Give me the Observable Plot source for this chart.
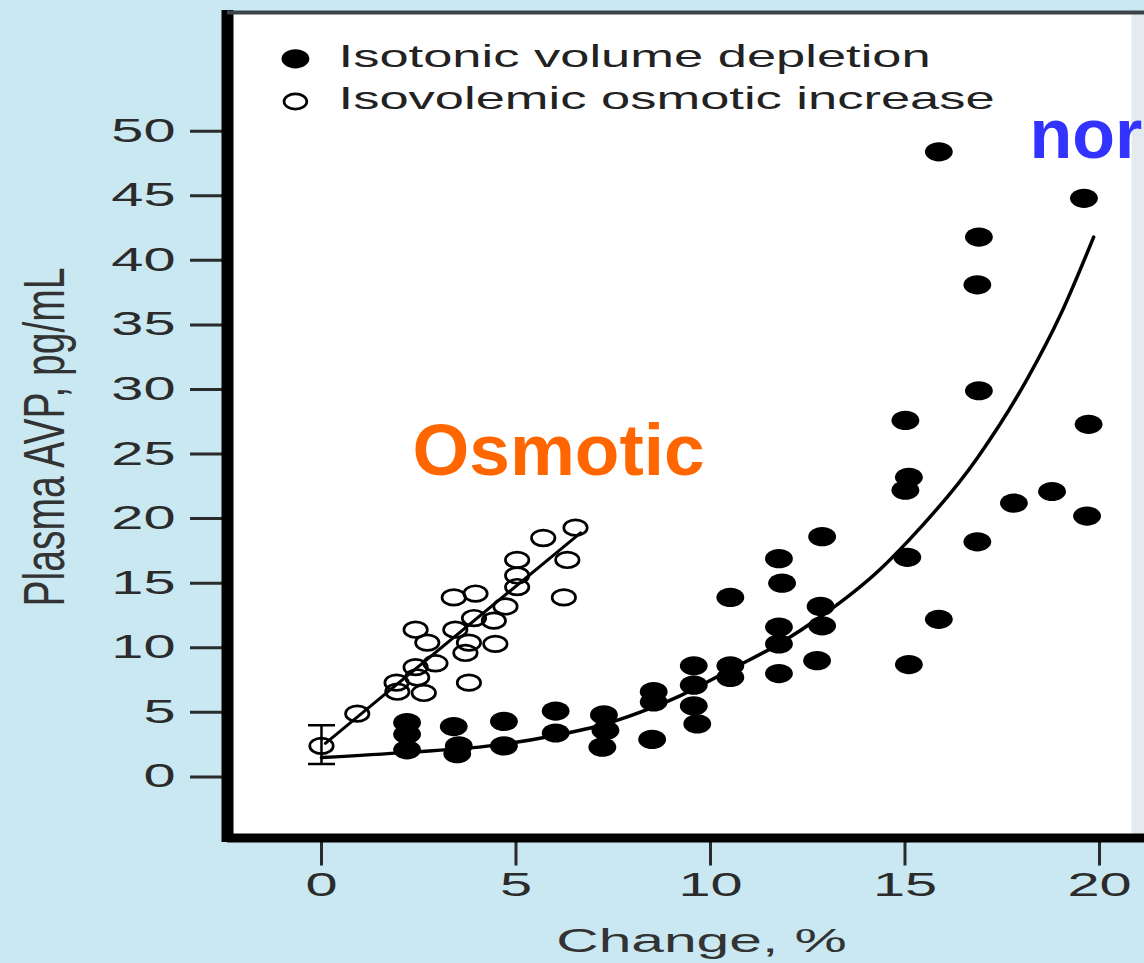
<!DOCTYPE html>
<html><head><meta charset="utf-8">
<script src="https://cdn.jsdelivr.net/npm/d3@7"></script>
<script src="https://cdn.jsdelivr.net/npm/@observablehq/plot@0.6"></script>
<style>
html,body{margin:0;padding:0;background:#c9e8f2;}
#chart{width:1144px;height:963px;overflow:hidden;}
</style></head><body><div id="chart"></div>
<script>
// ---- data ----
const xTicks = [0, 5, 10, 15, 20];
const yTicks = [0, 5, 10, 15, 20, 25, 30, 35, 40, 45, 50];
const xDomain = [-2.416, 21.157];
const yDomain = [-4.73, 59.19];

// Isovolemic osmotic increase (open circles)
const osmoticX = [0, 0.92, 1.93, 1.95, 2.42, 2.72, 2.42, 2.46, 2.63, 2.93, 3.40, 3.96, 3.44, 3.92, 3.79, 3.70, 3.79, 4.43, 4.47, 4.73, 5.03, 5.03, 5.03, 5.70, 6.53, 6.32, 6.23];
const osmoticY = [2.4, 4.9, 7.3, 6.6, 11.4, 10.4, 8.5, 7.7, 6.5, 8.8, 13.9, 14.2, 11.4, 12.3, 10.4, 9.6, 7.3, 12.1, 10.3, 13.2, 16.8, 15.6, 14.7, 18.5, 19.3, 16.8, 13.9];

// Isotonic volume depletion (filled dots)
const volumeX = [2.20, 2.20, 2.20, 3.40, 3.53, 3.49, 4.69, 4.69, 6.02, 6.02, 7.26, 7.30, 7.22, 8.54, 8.54, 8.50, 9.57, 9.57, 9.57, 9.66, 10.51, 10.51, 10.51, 11.76, 11.84, 11.76, 11.76, 11.76, 12.87, 12.83, 12.87, 12.74, 15.87, 19.60, 16.90, 16.86, 16.90, 15.01, 19.72, 15.10, 15.01, 17.80, 18.78, 19.68, 16.86, 15.06, 15.87, 15.10];
const volumeY = [4.2, 3.3, 2.1, 3.9, 2.4, 1.8, 4.3, 2.4, 5.1, 3.4, 4.8, 3.6, 2.3, 6.6, 5.8, 2.9, 8.6, 7.1, 5.5, 4.1, 13.9, 8.6, 7.7, 16.9, 15.0, 11.6, 10.3, 8.0, 18.6, 13.2, 11.7, 9.0, 48.4, 44.8, 41.8, 38.1, 29.9, 27.6, 27.3, 23.2, 22.2, 21.2, 22.1, 20.2, 18.2, 17.0, 12.2, 8.7];

// fitted curves
const fitVolumeX = [0, 2.2, 4.6, 6.0, 7.3, 8.53, 9.23, 10.51, 11.76, 12.83, 14.37, 15.06, 16.86, 18.14, 19.0, 19.85];
const fitVolumeY = [1.5, 1.9, 2.5, 3.2, 4.1, 5.4, 6.3, 8.3, 10.3, 12.4, 16.1, 18.2, 24.7, 30.8, 35.8, 41.8];
const fitOsmoticX = [0.1, 6.66];
const fitOsmoticY = [2.6, 18.9];

// baseline error bar (x = 0)
const errorBarX = [0];
const errorBarLow = [1.0];
const errorBarHigh = [4.0];

// legend and annotations
const legendLabels = ["Isotonic volume depletion", "Isovolemic osmotic increase"];
const legendX = [-0.67, -0.67];
const legendY = [55.6, 52.3];
const legendTextX = [0.44, 0.44];
const legendTextY = [55.8, 52.5];
const annotationLabels = ["Osmotic", "nor"];
const annotationX = [2.34, 18.2];
const annotationY = [25.16, 49.66];
const annotationColors = ["#ff6600", "#3333ff"];
const annotationSizes = [73, 70];

const xLabel = "Change, %";
const yLabel = "Plasma AVP, pg/mL";

// ---- build tables ----
const osmotic = osmoticX.map((x, i) => ({x, y: osmoticY[i]}));
const volume = volumeX.map((x, i) => ({x, y: volumeY[i]}));
const fitVolume = fitVolumeX.map((x, i) => ({x, y: fitVolumeY[i]}));
const fitOsmotic = fitOsmoticX.map((x, i) => ({x, y: fitOsmoticY[i]}));
const errorBar = errorBarX.map((x, i) => ({x, low: errorBarLow[i], high: errorBarHigh[i]}));
const legend = legendLabels.map((label, i) => ({label, x: legendX[i], y: legendY[i], tx: legendTextX[i], ty: legendTextY[i], filled: i === 0}));
const annotations = annotationLabels.map((label, i) => ({label, x: annotationX[i], y: annotationY[i], color: annotationColors[i], size: annotationSizes[i]}));

// ellipse symbol (the figure is horizontally stretched)
const ellipse = (ax) => ({
  draw(ctx, size) {
    const r = Math.sqrt(size / Math.PI), rx = r * ax, ry = r, k = 0.5523;
    ctx.moveTo(rx, 0);
    ctx.bezierCurveTo(rx, ry * k, rx * k, ry, 0, ry);
    ctx.bezierCurveTo(-rx * k, ry, -rx, ry * k, -rx, 0);
    ctx.bezierCurveTo(-rx, -ry * k, -rx * k, -ry, 0, -ry);
    ctx.bezierCurveTo(rx * k, -ry, rx, -ry * k, rx, 0);
    ctx.closePath();
  }
});
const cap = {draw(ctx) { ctx.moveTo(-13.5, 0); ctx.lineTo(13.5, 0); }};
const filledSym = ellipse(1.45);
const openSym = ellipse(1.5);

const font = "'Liberation Sans', Arial, Helvetica, sans-serif";

const plot = Plot.plot({
  width: 1144, height: 963,
  marginLeft: 227, marginRight: 0, marginTop: 12, marginBottom: 125.5,
  x: {domain: xDomain},
  y: {domain: yDomain},
  style: {background: "transparent", fontFamily: font, fontSize: "33px", color: "#2b2b2b", overflow: "visible"},
  marks: [
    Plot.frame({fill: "#e4ebee"}),
    Plot.frame({fill: "white", insetRight: 13}),
    Plot.axisY({ticks: yTicks, tickSize: 37, tickPadding: 15, strokeWidth: 3, label: null}),
    Plot.axisX({ticks: xTicks, tickSize: 28, tickPadding: 7, strokeWidth: 3, label: null}),
    Plot.ruleX([xDomain[0]], {stroke: "#000", strokeWidth: 12, insetBottom: -4.5, insetTop: -2}),
    Plot.ruleY([yDomain[0]], {stroke: "#000", strokeWidth: 9}),
    Plot.ruleY([yDomain[1]], {stroke: "#3a4448", strokeWidth: 4}),
    // fits
    Plot.line(fitVolume, {x: "x", y: "y", curve: "monotone-x", stroke: "#000", strokeWidth: 3.5}),
    Plot.line(fitOsmotic, {x: "x", y: "y", stroke: "#000", strokeWidth: 3}),
    // error bar
    Plot.ruleX(errorBar, {x: "x", y1: "low", y2: "high", stroke: "#000", strokeWidth: 2.5}),
    Plot.dot(errorBar, {x: "x", y: "low", symbol: cap, stroke: "#000", strokeWidth: 2.5}),
    Plot.dot(errorBar, {x: "x", y: "high", symbol: cap, stroke: "#000", strokeWidth: 2.5}),
    // data
    Plot.dot(osmotic, {x: "x", y: "y", symbol: openSym, r: 7.8, fill: "none", stroke: "#000", strokeWidth: 2.7}),
    Plot.dot(volume, {x: "x", y: "y", symbol: filledSym, r: 9.6, fill: "#000", stroke: "none"}),
    // legend
    Plot.dot(legend.filter(d => d.filled), {x: "x", y: "y", symbol: filledSym, r: 9.6, fill: "#000", stroke: "none"}),
    Plot.dot(legend.filter(d => !d.filled), {x: "x", y: "y", symbol: openSym, r: 7.6, fill: "none", stroke: "#000", strokeWidth: 2.7}),
    Plot.text(legend, {x: "tx", y: "ty", text: "label", textAnchor: "start", fontSize: 32, fill: "#222"}),
    // axis titles
    Plot.text([yLabel], {frameAnchor: "left", rotate: -90, dx: -182, dy: 11.75, textAnchor: "middle", lineAnchor: "middle", fontSize: 39, fill: "#333"}),
    Plot.text([xLabel], {frameAnchor: "bottom", dx: 15.5, dy: 103.5, textAnchor: "middle", lineAnchor: "middle", fontSize: 33, fill: "#333"}),
    // annotations
    Plot.text(annotations.filter(d => d.size === annotationSizes[0]), {x: "x", y: "y", text: "label", fill: "color", textAnchor: "start", fontSize: annotationSizes[0], fontWeight: "bold", fontFamily: font}),
    Plot.text(annotations.filter(d => d.size === annotationSizes[1]), {x: "x", y: "y", text: "label", fill: "color", textAnchor: "start", fontSize: annotationSizes[1], fontWeight: "bold", fontFamily: font})
  ]
});
document.getElementById("chart").appendChild(plot);

// horizontally stretch figure texts to match the stretched original
function wrapStretch(el, s) {
  const t = el.getAttribute("transform") || "";
  const m = /translate\(\s*([-\d.e]+)[ ,]+([-\d.e]+)\s*\)/.exec(t);
  const ax = m ? +m[1] : +(el.getAttribute("x") || 0);
  const g = document.createElementNS("http://www.w3.org/2000/svg", "g");
  g.setAttribute("transform", `translate(${ax},0) scale(${s},1) translate(${-ax},0)`);
  el.parentNode.insertBefore(g, el);
  g.appendChild(el);
}
plot.querySelectorAll('g[aria-label="y-axis tick label"] text').forEach(el => wrapStretch(el, 1.75));
plot.querySelectorAll('g[aria-label="x-axis tick label"] text').forEach(el => wrapStretch(el, 1.75));
plot.querySelectorAll("text").forEach(el => {
  const s = el.textContent;
  if (legendLabels.includes(s)) wrapStretch(el, 1.64);
  else if (s === yLabel) wrapStretch(el, 1.45);
  else if (s === xLabel) wrapStretch(el, 1.78);
});
</script>
</body></html>
